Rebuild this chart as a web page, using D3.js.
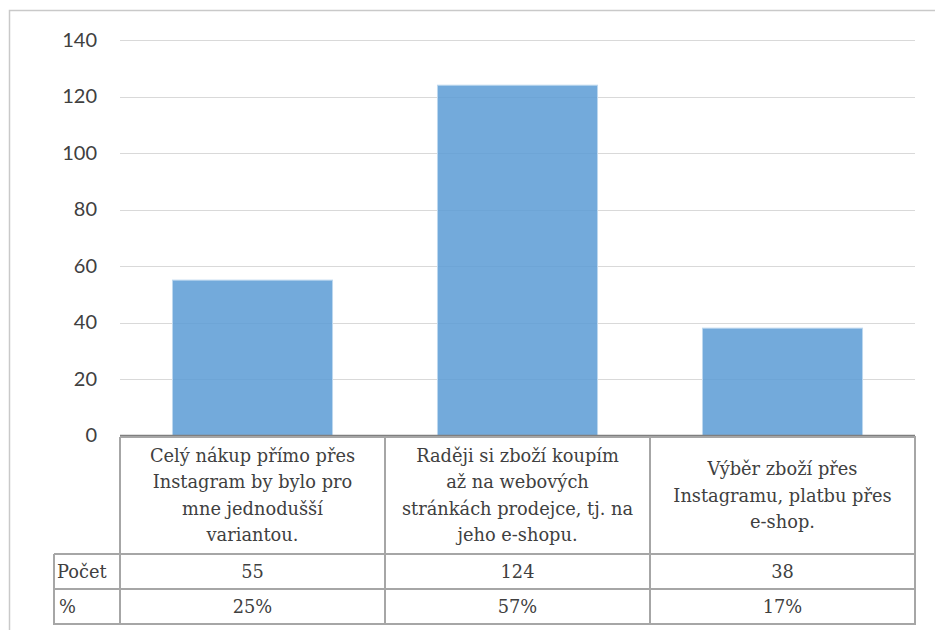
<!DOCTYPE html>
<html><head><meta charset="utf-8">
<script src="https://cdn.jsdelivr.net/npm/d3@7"></script>
<style>body{margin:0;background:#fff}svg{display:block}</style>
</head><body>
<script>
const categories = [
  ["Celý nákup přímo přes","Instagram by bylo pro","mne jednodušší","variantou."],
  ["Raději si zboží koupím","až na webových","stránkách prodejce, tj. na","jeho e-shopu."],
  ["Výběr zboží přes","Instagramu, platbu přes","e-shop."]
];
const counts = [55, 124, 38];
const percents = ["25%", "57%", "17%"];
const rowLabels = ["Počet", "%"];
const yTicks = [0, 20, 40, 60, 80, 100, 120, 140];

const W = 935, H = 630;
const svg = d3.select("body").append("svg").attr("width", W).attr("height", H);

const x0 = 120, x1 = 915, yTop = 40, yBase = 435.5;
const idx = d3.range(categories.length);
const x = d3.scaleBand().domain(idx).range([x0, x1]).paddingInner(0.396).paddingOuter(0.198);
const xc = d3.scaleBand().domain(idx).range([x0, x1]).padding(0);
const y = d3.scaleLinear().domain([0, 140]).range([yBase, yTop]);

svg.append("path").attr("d", `M9.5,${H} V10.5 H${W}`).attr("fill","none").attr("stroke","#c9c9c9").attr("stroke-width",1.5);

svg.append("g").selectAll("line").data(yTicks.filter(d=>d>0)).join("line")
  .attr("x1", x0).attr("x2", x1).attr("y1", d=>Math.round(y(d))+0.5).attr("y2", d=>Math.round(y(d))+0.5)
  .attr("stroke","#d9d9d9").attr("stroke-width",1);

const yAxis = d3.axisLeft(y).tickValues(yTicks).tickSize(0).tickPadding(0);
const ga = svg.append("g").attr("transform", "translate(97,0)").call(yAxis);
ga.attr("font-family", "Lato").attr("font-size", 20);
ga.select(".domain").remove();
ga.selectAll("text").attr("fill","#404040").attr("font-family","Lato");

svg.append("g").selectAll("rect").data(counts).join("rect")
  .attr("x", (d,i)=>x(i)).attr("width", x.bandwidth())
  .attr("y", d=>y(d)).attr("height", d=>yBase - y(d))
  .attr("fill","#5b9bd5").attr("fill-opacity",0.85)
  .attr("stroke","#bdd7ee").attr("stroke-width",1);

svg.append("line").attr("x1", x0).attr("x2", x1).attr("y1", yBase).attr("y2", yBase).attr("stroke","#7f7f7f").attr("stroke-width",1.5);

const tTop = 437, r1 = 554, r2 = 589, tBot = 624, labL = 54;
const tc = "#a6a6a6", tw = 2;
const tg = svg.append("g");
const line = (xa,ya,xb,yb)=>tg.append("line").attr("x1",xa).attr("y1",ya).attr("x2",xb).attr("y2",yb).attr("stroke",tc).attr("stroke-width",tw);
line(x0, tTop, x1, tTop);
line(labL, r1, x1, r1);
line(labL, r2, x1, r2);
line(labL-1, tBot, x1+1, tBot);
line(labL, r1, labL, tBot);
idx.forEach(i=>line(xc(i), tTop, xc(i), tBot));
line(x1, tTop-1, x1, tBot);

const serif = "DejaVu Serif";
const fs = 17.8;
const lh = 26.5;
categories.forEach((lines,i)=>{
  const cx = xc(i) + xc.bandwidth()/2;
  const cy = (tTop + r1)/2;
  const t = tg.append("text").attr("font-family",serif).attr("text-anchor","middle").attr("font-size",fs).attr("fill","#404040");
  lines.forEach((s,j)=>{
    t.append("tspan").attr("x",cx).attr("y", cy + (j - (lines.length-1)/2)*lh).attr("dy","0.35em").text(s);
  });
});
[counts, percents].forEach((row,ri)=>{
  const cy = ri===0 ? (r1+r2)/2 : (r2+tBot)/2;
  tg.append("g").selectAll("text").data(row).join("text").attr("font-family",serif)
    .attr("x",(d,i)=>xc(i)+xc.bandwidth()/2).attr("y",cy).attr("dy","0.35em")
    .attr("text-anchor","middle").attr("font-size",fs).attr("fill","#404040").text(d=>d);
  tg.append("text").attr("font-family",serif).attr("x", ri===0?57:59).attr("y",cy).attr("dy","0.35em")
    .attr("font-size",fs).attr("fill","#404040").text(rowLabels[ri]);
});
</script>
</body></html>
